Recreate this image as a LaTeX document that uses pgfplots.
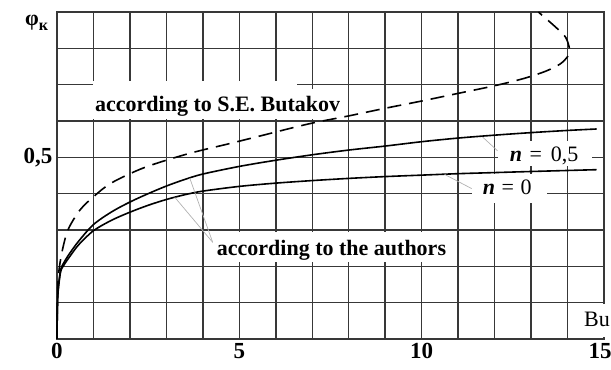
\documentclass[border=0pt]{standalone}
\usepackage{fontspec}
\setmainfont{Liberation Serif}
\usepackage{pgfplots}
\pgfplotsset{compat=1.18}
\usetikzlibrary{calc}
\newcommand{\lbl}{\fontsize{22}{24}\selectfont\bfseries}
\newcommand{\nlbl}{\fontsize{22}{24}\selectfont}
\begin{document}
\begin{tikzpicture}
\begin{axis}[
  scale only axis, width=547pt, height=327pt,
  xmin=0, xmax=15, ymin=0, ymax=0.9,
  xtick={0,5,10,15}, minor xtick={1,2,3,4,6,7,8,9,11,12,13,14},
  xticklabels={0,5,10,\hspace*{-8pt}15},
  ytick={0.5}, yticklabel={0{,}5},
  minor ytick={0.1,0.2,0.3,0.4,0.6,0.7,0.8},
  grid=both,
  major grid style={line width=1.5pt, black!78},
  minor grid style={line width=1.5pt, black!78},
  axis line style={line width=1.5pt, black!78},
  major tick length=0pt, minor tick length=0pt,
  tick label style={font=\fontsize{23}{24}\selectfont\bfseries},
  /pgf/number format/assume math mode=true,
  xticklabel style={yshift=-1pt},
  yticklabel style={xshift=-1pt},
  clip=false,
]
% white label backgrounds
\fill[white] (axis cs:0.986,0.6055) rectangle (axis cs:6.575,0.7096);
\fill[white] (axis cs:6.575,0.6055) rectangle (axis cs:7.753,0.6877);
\fill[white] (axis cs:4.33,0.211) rectangle (axis cs:10.71,0.2932);
\fill[white] (axis cs:12.08,0.477) rectangle (axis cs:14.68,0.545);
\fill[white] (axis cs:11.37,0.375) rectangle (axis cs:13.45,0.455);
\fill[white] (axis cs:14.35,0.005) rectangle (axis cs:15.2,0.095);

% n = 0
\addplot[line width=1.6pt, black, smooth] coordinates {
(0,0) (0.01,0.08) (0.03,0.13) (0.1,0.185) (0.2,0.205) (0.35,0.227) (0.6,0.26)
(1,0.298) (1.5,0.327) (2,0.349) (2.5,0.368) (3,0.384) (3.5,0.397) (4,0.407)
(5,0.42) (6,0.429) (7,0.436) (8,0.442) (9,0.447) (10,0.451) (11,0.455)
(12,0.458) (13,0.461) (14.8,0.466)};
% n = 0.5
\addplot[line width=1.6pt, black, smooth] coordinates {
(0,0) (0.01,0.08) (0.03,0.135) (0.1,0.19) (0.2,0.212) (0.35,0.236) (0.6,0.27)
(1,0.315) (1.5,0.35) (2,0.377) (2.5,0.40) (3,0.421) (3.5,0.439) (4,0.454)
(5,0.475) (6,0.492) (7,0.507) (8,0.52) (9,0.531) (10,0.543) (11,0.553)
(12,0.561) (13,0.568) (14,0.574) (14.8,0.578)};
% Butakov
\addplot[line width=1.6pt, black, smooth, dash pattern=on 14pt off 8pt] coordinates {
(0,0) (0.01,0.1) (0.04,0.175) (0.13,0.236) (0.3,0.3) (0.63,0.355) (1.04,0.395)
(1.5,0.43) (2.4,0.472) (3.6,0.51) (4.7,0.537) (5.5,0.557) (6.9,0.592)
(8,0.614) (9,0.635) (10,0.655) (11,0.676) (12,0.697) (12.8,0.717)
(13.4,0.737) (13.8,0.757) (14.02,0.78) (14.05,0.80) (13.95,0.83)
(13.7,0.856) (13.2,0.9)};

% leaders
\draw[gray!60, line width=0.7pt] (axis cs:4.27,0.266) -- (axis cs:3.23,0.390);
\draw[gray!60, line width=0.7pt] (axis cs:4.27,0.266) -- (axis cs:3.64,0.443);
\draw[gray!60, line width=0.7pt] (axis cs:12.08,0.518) -- (axis cs:11.67,0.556);
\draw[gray!60, line width=0.7pt] (axis cs:11.37,0.414) -- (axis cs:10.63,0.453);

% texts
\node[font=\lbl, anchor=base west, inner sep=0pt] at (axis cs:1.04,0.627) {according to S.E. Butakov};
\node[font=\lbl, anchor=base west, inner sep=0pt] at (axis cs:4.38,0.230) {according to the authors};
\node[font=\nlbl, anchor=base west, inner sep=0pt] at (axis cs:12.41,0.4877) {\textbf{\textit{n}}\hspace{0.35em}=\hspace{0.4em}0,5};
\node[font=\nlbl, anchor=base west, inner sep=0pt] at (axis cs:11.67,0.397) {\textbf{\textit{n}}\hspace{0.3em}=\hspace{0.3em}0};
\node[font=\nlbl, anchor=base west, inner sep=0pt] at (axis cs:14.45,0.035) {Bu};
\node[font=\lbl, inner sep=0pt] at (axis cs:-0.56,0.87) {φ\raisebox{-5pt}{\fontsize{16}{17}\selectfont к}};
\end{axis}
\pgfresetboundingbox
\path[use as bounding box] ($(current axis.south west)+(-57pt,-31pt)$) rectangle ($(current axis.north east)+(7pt,12pt)$);
\end{tikzpicture}
\end{document}
